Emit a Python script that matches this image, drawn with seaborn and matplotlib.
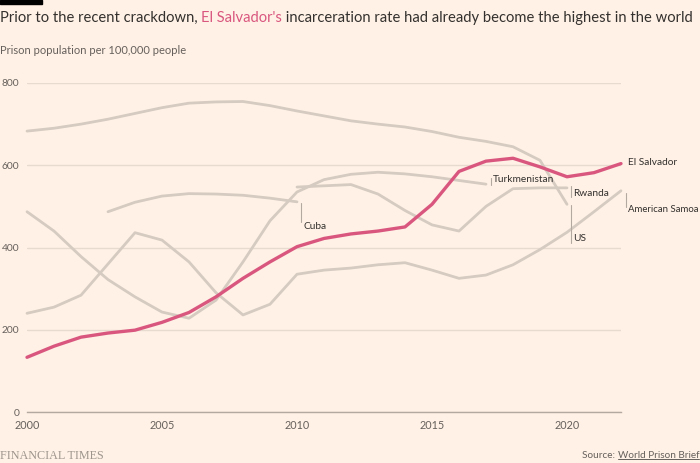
import matplotlib
matplotlib.use("Agg")
import matplotlib.pyplot as plt
import seaborn as sns
import pandas as pd

# Prison population per 100,000 people
years_full = list(range(2000, 2023))

el_salvador = [133, 160, 182, 192, 199, 218, 242, 280, 325, 365, 402, 422, 433,
               440, 450, 505, 585, 610, 617, 596, 572, 582, 604]
american_samoa = [240, 255, 284, 360, 436, 418, 365, 290, 236, 262, 335, 345, 350,
                  358, 363, 345, 325, 333, 358, 395, 437, 487, 538]

us_years = list(range(2000, 2021))
us = [683, 690, 700, 712, 726, 740, 751, 754, 755, 745, 732, 720, 708, 700, 693,
      682, 668, 658, 645, 612, 505]

turkmenistan_years = list(range(2000, 2018))
turkmenistan = [487, 440, 378, 322, 280, 243, 228, 272, 365, 465, 535, 565, 578,
                583, 579, 572, 563, 554]

cuba_years = list(range(2003, 2011))
cuba = [487, 510, 525, 531, 530, 527, 520, 511]

rwanda_years = list(range(2010, 2021))
rwanda = [547, 550, 553, 530, 490, 455, 440, 500, 543, 545, 545]

y_ticks = [0, 200, 400, 600, 800]
x_ticks = [2000, 2005, 2010, 2015, 2020]

BG = "#fff1e5"
GREY_LINE = "#d6cbc1"
PINK = "#d9577f"
GRID = "#e7dbd0"
TEXT = "#33302e"
MUTED = "#66605c"

sns.set_theme(style="white")
plt.rcParams['font.family'] = ['Lato', 'DejaVu Sans']

fig = plt.figure(figsize=(7, 4.63), dpi=100, facecolor=BG)
ax = fig.add_axes([27 / 700, 1 - 412 / 463, 594 / 700, (412 - 83) / 463])
ax.set_facecolor(BG)

grey_series = [
    (us_years, us),
    (turkmenistan_years, turkmenistan),
    (cuba_years, cuba),
    (rwanda_years, rwanda),
    (years_full, american_samoa),
]
for xs, ys in grey_series:
    sns.lineplot(x=xs, y=ys, color=GREY_LINE, linewidth=2, ax=ax, clip_on=False)

sns.lineplot(x=years_full, y=el_salvador, color=PINK, linewidth=2.4, ax=ax, clip_on=False)

ax.set_xlim(2000, 2022)
ax.set_ylim(0, 800)
ax.set_yticks(y_ticks)
ax.set_xticks(x_ticks)
ax.set_yticklabels([str(v) for v in y_ticks], color=MUTED, fontsize=7.4)
ax.set_xticklabels([str(v) for v in x_ticks], color=MUTED, fontsize=7.8)
ax.tick_params(axis='y', length=0, pad=5.5)
ax.tick_params(axis='x', length=4, width=1, color="#b3a9a0", pad=2, direction='out')
ax.grid(axis='y', color=GRID, linewidth=1)
ax.set_axisbelow(True)
for side in ['top', 'right', 'left']:
    ax.spines[side].set_visible(False)
ax.spines['bottom'].set_color("#b3a9a0")
ax.spines['bottom'].set_linewidth(1)
ax.set_xlabel("")
ax.set_ylabel("")

# Labels with leader lines
lead_kw = dict(color="#b3a9a0", linewidth=0.8, clip_on=False)
lab_kw = dict(fontsize=7.3, color=TEXT, clip_on=False)

ax.plot([2010.15, 2010.15], [508, 462], **lead_kw)
ax.text(2010.25, 462, "Cuba", va='top', ha='left', **lab_kw)

ax.plot([2017.2, 2017.2], [570, 553], **lead_kw)
ax.text(2017.27, 566, "Turkmenistan", va='center', ha='left', **lab_kw)

ax.plot([2020.15, 2020.15], [549, 522], **lead_kw)
ax.text(2020.22, 532, "Rwanda", va='center', ha='left', **lab_kw)

ax.plot([2020.15, 2020.15], [503, 412], **lead_kw)
ax.text(2020.22, 412, "US", va='bottom', ha='left', **lab_kw)

ax.plot([2022.2, 2022.2], [532, 498], **lead_kw)
ax.text(2022.25, 493, "American Samoa", va='center', ha='left',
        fontsize=6.9, color=TEXT, clip_on=False)

ax.text(2022.27, 606, "El Salvador", va='center', ha='left', **lab_kw)

# Title in pieces (El Salvador's in pink)
fig.patches.append(plt.Rectangle((0, 1 - 4 / 463), 42 / 700, 4 / 463,
                                 transform=fig.transFigure, color="black", zorder=5))
fig.canvas.draw()
renderer = fig.canvas.get_renderer()
title_parts = [("Prior to the recent crackdown, ", TEXT),
               ("El Salvador's", PINK),
               (" incarceration rate had already become the highest in the world", TEXT)]
x0 = 0.0
for part, col in title_parts:
    t = fig.text(x0, 1 - 18 / 463, part, fontsize=10.6, color=col, va='center', ha='left')
    bb = t.get_window_extent(renderer=renderer)
    x0 += bb.width / fig.bbox.width

fig.text(0.0, 1 - 50 / 463, "Prison population per 100,000 people",
         fontsize=8, color=MUTED, va='center', ha='left')

fig.text(0.0, 1 - 456 / 463, "FINANCIAL TIMES", fontsize=8.7, color="#9e958d",
         family=['Liberation Serif', 'DejaVu Serif'], va='center', ha='left')

src = fig.text(0.999, 1 - 455 / 463, "World Prison Brief", fontsize=7.2, color=MUTED,
               va='center', ha='right')
bb = src.get_window_extent(renderer=renderer)
fig.text(bb.x0 / fig.bbox.width, 1 - 455 / 463, "Source: ", fontsize=7.2, color=MUTED,
         va='center', ha='right')
uy = (bb.y0 + 1) / fig.bbox.height
fig.add_artist(plt.Line2D([bb.x0 / fig.bbox.width, bb.x1 / fig.bbox.width], [uy, uy],
                          transform=fig.transFigure, color=MUTED, linewidth=0.7))

fig.savefig("out.png", dpi=100, facecolor=BG)
